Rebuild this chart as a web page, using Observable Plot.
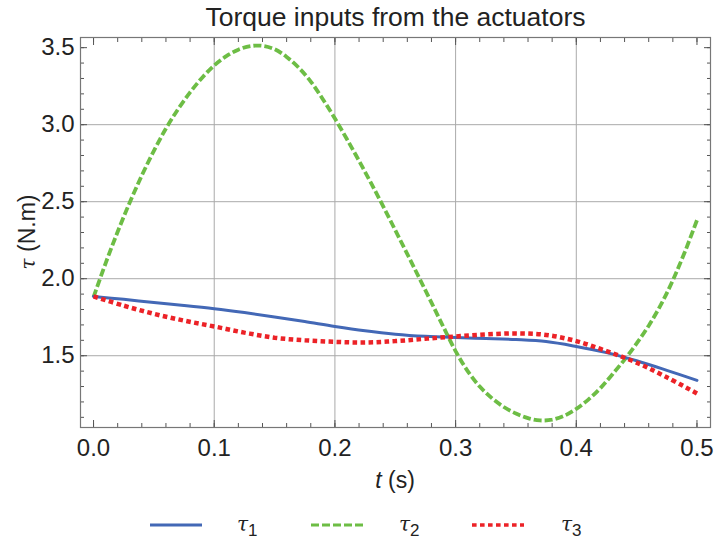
<!DOCTYPE html>
<html>
<head>
<meta charset="utf-8">
<script src="https://cdn.jsdelivr.net/npm/d3@7"></script>
<script src="https://cdn.jsdelivr.net/npm/@observablehq/plot@0.6"></script>
<style>
  body { margin: 0; background: #fff; }
  #wrap { width: 716px; font-family: "Liberation Sans", Arial, sans-serif; color: #222; }
  #title { height: 32px; line-height: 34px; text-align: center; font-size: 26.5px; padding-left: 75px; box-sizing: border-box; color: #222; }
  #legend { height: 41px; position: relative; font-size: 22px; }
  .item { position: absolute; top: 0; height: 41px; display: flex; align-items: center; }
  .item svg { display: block; }
  .lab { position: absolute; font-style: italic; font-family: "DejaVu Serif", serif; font-size: 20px; color: #222; }
  .lab sub { font-style: normal; font-family: "Liberation Sans", sans-serif; font-size: 17px; vertical-align: -5px; }
</style>
</head>
<body>
<div id="wrap">
  <div id="title">Torque inputs from the actuators</div>
  <div id="plot"></div>
  <div id="legend"></div>
</div>
<script>
// ---- data ----
const tGreen = [0,0.01,0.02,0.03,0.04,0.05,0.06,0.07,0.08,0.09,0.10,0.11,0.12,0.13,0.14,0.15,0.16,0.17,0.18,0.19,0.20,0.21,0.22,0.23,0.24,0.25,0.26,0.27,0.28,0.29,0.30,0.31,0.32,0.33,0.34,0.35,0.36,0.37,0.38,0.39,0.40,0.41,0.42,0.43,0.44,0.45,0.46,0.47,0.48,0.49,0.50];
const tau2 = [1.88,2.10,2.305,2.495,2.67,2.83,2.975,3.10,3.21,3.305,3.385,3.445,3.487,3.51,3.512,3.49,3.44,3.37,3.28,3.165,3.04,2.905,2.765,2.62,2.47,2.315,2.16,2.003,1.845,1.685,1.53,1.40,1.30,1.225,1.167,1.125,1.095,1.08,1.085,1.11,1.155,1.215,1.29,1.38,1.475,1.58,1.695,1.83,1.99,2.175,2.38];
const tSlow = [0,0.025,0.05,0.075,0.1,0.125,0.15,0.175,0.2,0.225,0.25,0.275,0.3,0.325,0.35,0.375,0.4,0.425,0.45,0.475,0.5];
const tau1 = [1.885,1.866,1.845,1.826,1.805,1.78,1.752,1.722,1.69,1.662,1.64,1.626,1.618,1.612,1.605,1.592,1.56,1.52,1.467,1.405,1.34];
const tau3 = [1.885,1.825,1.772,1.728,1.69,1.65,1.617,1.6,1.59,1.586,1.595,1.61,1.625,1.638,1.645,1.635,1.595,1.53,1.455,1.36,1.255];
const xMajor = [0,0.1,0.2,0.3,0.4,0.5];
const xMinor = d3.range(0, 0.5001, 0.02);
const yMajor = [1.5,2.0,2.5,3.0,3.5];
const yMinor = d3.range(1.1, 3.5501, 0.1);
const xGrid = [0.1,0.2,0.3,0.4];
const yGrid = [1.5,2.0,2.5,3.0];
const seriesNames = ["1","2","3"];
const colors = ["#4368b6","#6dbd45","#ec2227"];
const dashes = [null, "8,3", "4.6,3.4"];
const widths = [3, 3.8, 4.5];

const rows1 = tSlow.map((t,i)=>({t, v: tau1[i]}));
const rows2 = tGreen.map((t,i)=>({t, v: tau2[i]}));
const rows3 = tSlow.map((t,i)=>({t, v: tau3[i]}));

const font = '"Liberation Sans", Arial, sans-serif';
const fmt = d => d.toFixed(1);
const blank = () => "";
const tickCol = "#555";

const svg = Plot.plot({
  width: 716,
  height: 470,
  marginLeft: 80,
  marginRight: 6,
  marginTop: 5,
  marginBottom: 75,
  style: {fontFamily: font, fontSize: "24px", color: "#222", background: "#fff"},
  x: {domain: [-0.0108, 0.5112]},
  y: {domain: [1.034, 3.566]},
  marks: [
    Plot.gridX(xGrid, {stroke: "#aaa", strokeOpacity: 1, strokeWidth: 1}),
    Plot.gridY(yGrid, {stroke: "#aaa", strokeOpacity: 1, strokeWidth: 1}),
    Plot.axisX(xMajor, {anchor: "bottom", tickSize: -7, tickPadding: 18, tickFormat: fmt, label: null, stroke: tickCol}),
    Plot.axisX(xMinor, {anchor: "bottom", tickSize: -4, tickFormat: blank, label: null, stroke: tickCol}),
    Plot.axisX(xMajor, {anchor: "top", tickSize: -7, tickFormat: blank, label: null, stroke: tickCol}),
    Plot.axisX(xMinor, {anchor: "top", tickSize: -4, tickFormat: blank, label: null, stroke: tickCol}),
    Plot.axisY(yMajor, {anchor: "left", tickSize: -7, tickPadding: 13, tickFormat: fmt, label: null, stroke: tickCol}),
    Plot.axisY(yMinor, {anchor: "left", tickSize: -4, tickFormat: blank, label: null, stroke: tickCol}),
    Plot.axisY(yMajor, {anchor: "right", tickSize: -7, tickFormat: blank, label: null, stroke: tickCol}),
    Plot.axisY(yMinor, {anchor: "right", tickSize: -4, tickFormat: blank, label: null, stroke: tickCol}),
    Plot.line(rows2, {x: "t", y: "v", stroke: colors[1], strokeWidth: widths[1], strokeDasharray: dashes[1], strokeLinecap: "butt", strokeLinejoin: "miter", curve: "catmull-rom"}),
    Plot.line(rows1, {x: "t", y: "v", stroke: colors[0], strokeWidth: widths[0], curve: "catmull-rom"}),
    Plot.line(rows3, {x: "t", y: "v", stroke: colors[2], strokeWidth: widths[2], strokeDasharray: dashes[2], strokeLinecap: "butt", strokeLinejoin: "miter", curve: "catmull-rom"}),
    Plot.frame({stroke: "#777", strokeWidth: 1.2})
  ]
});

const s = d3.select(svg);

// axis titles as real text with italic parts
const xl = s.append("text").attr("x", 395).attr("y", 456).attr("text-anchor", "middle")
  .attr("font-family", font).attr("font-size", 23).attr("fill", "#222");
xl.append("tspan").attr("font-style", "italic").text("t");
xl.append("tspan").text(" (s)");
const yl = s.append("text").attr("transform", "translate(35,200) rotate(-90)").attr("text-anchor", "middle")
  .attr("font-family", font).attr("font-size", 23).attr("fill", "#222");
yl.append("tspan").attr("font-style", "italic").attr("font-family", '"DejaVu Serif", serif').attr("font-size", 20).text("τ");
yl.append("tspan").text(" (N.m)");

document.getElementById("plot").appendChild(svg);

// legend
const legend = document.getElementById("legend");
const items = [
  {x: 150, lx: 237},
  {x: 311, lx: 399},
  {x: 472, lx: 561}
];
items.forEach((it, i) => {
  const d = document.createElement("div");
  d.className = "item";
  d.style.left = it.x + "px";
  d.style.top = "2px";
  d.innerHTML = `<svg width="52" height="10"><line x1="0" y1="5" x2="52" y2="5" stroke="${colors[i]}" stroke-width="${i === 2 ? 3.5 : 3}" ${dashes[i] ? `stroke-dasharray="${dashes[i]}"` : ""}/></svg>`;
  legend.appendChild(d);
  const l = document.createElement("div");
  l.className = "lab";
  l.style.left = it.lx + "px";
  l.style.top = "10px";
  l.innerHTML = `τ<sub>${seriesNames[i]}</sub>`;
  legend.appendChild(l);
});
</script>
</body>
</html>
